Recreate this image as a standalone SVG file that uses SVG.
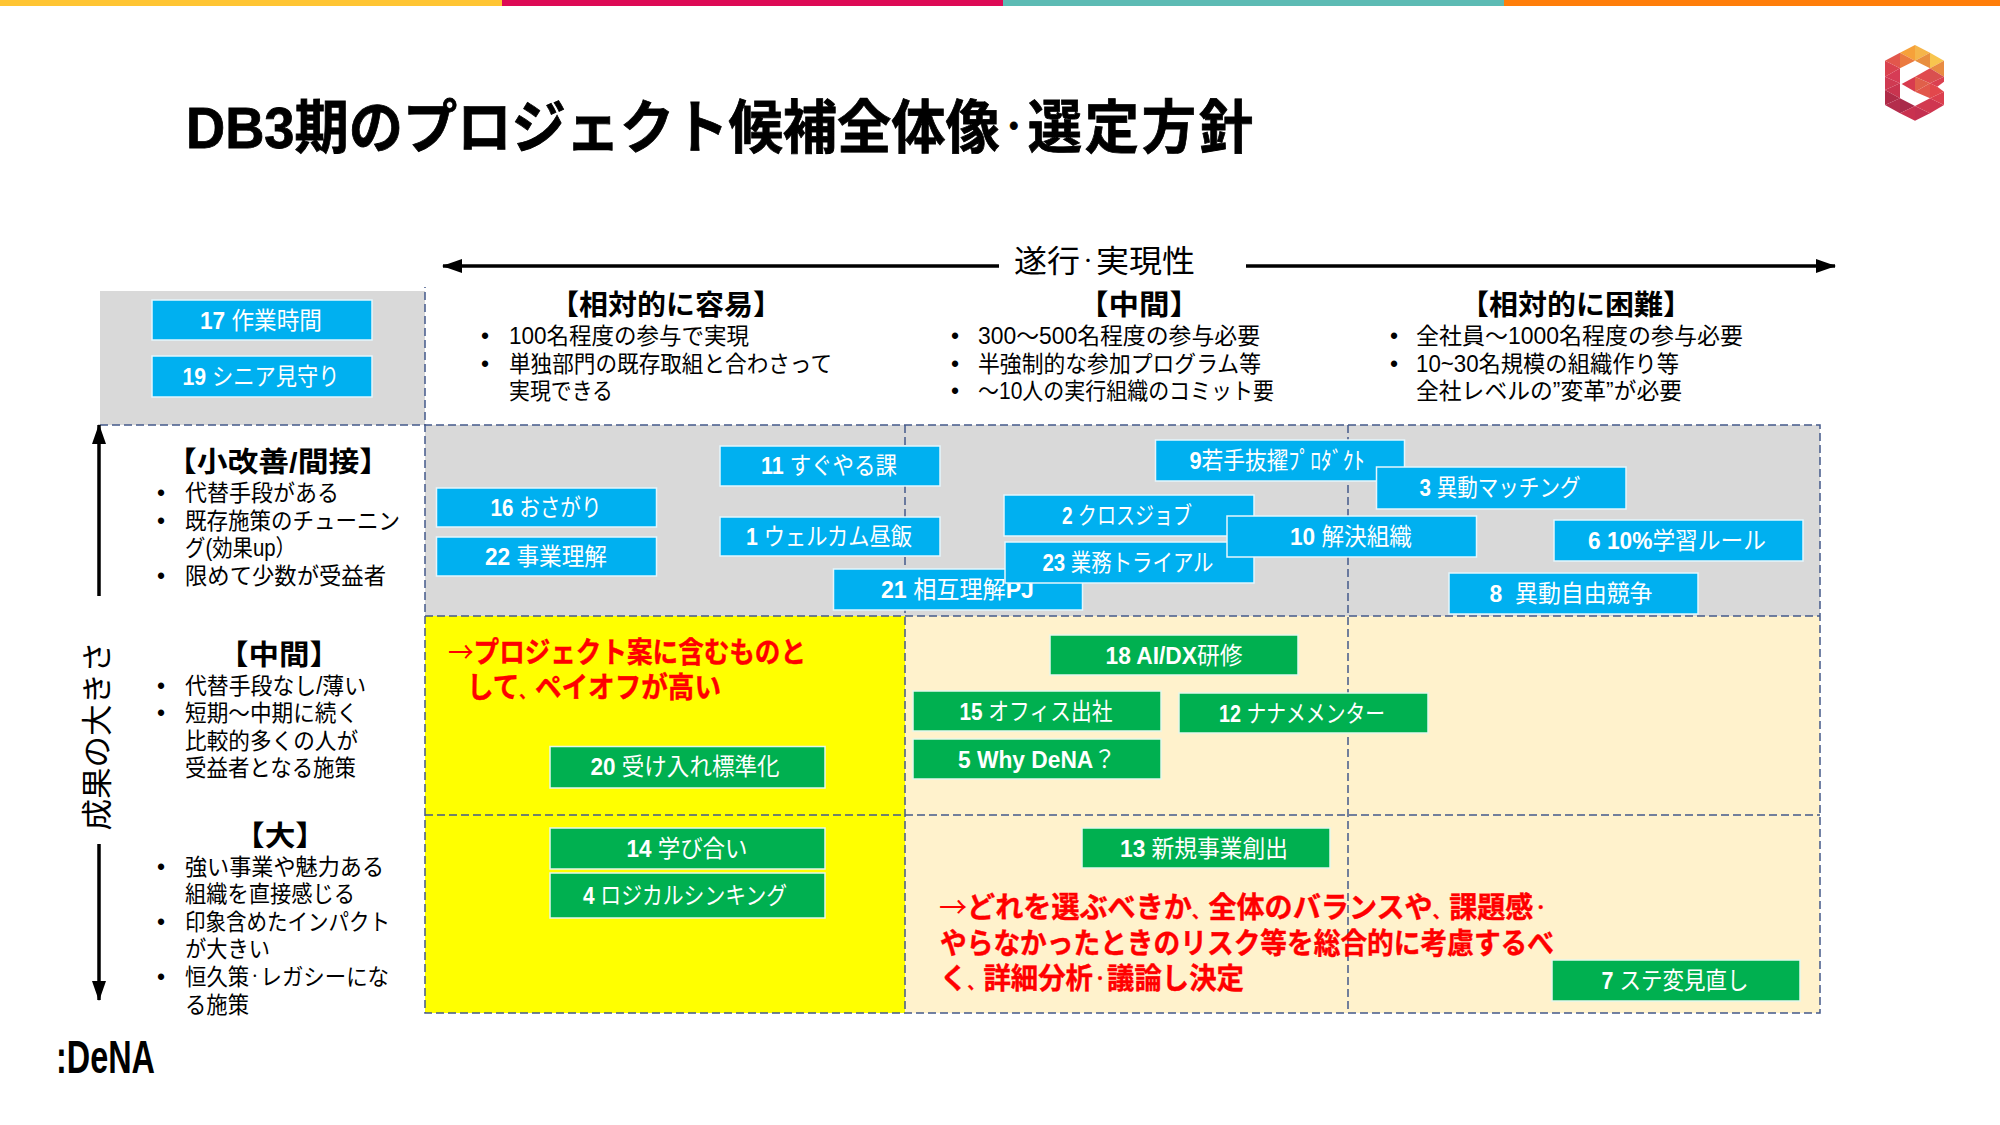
<svg xmlns="http://www.w3.org/2000/svg" width="2000" height="1125" viewBox="0 0 2000 1125">
<style>
text{font-family:"Liberation Sans","Noto Sans CJK JP",sans-serif;fill:#000}
.title{font-size:58px;font-weight:700;stroke:#000;stroke-width:.8}
.h{font-size:28px;font-weight:700;text-anchor:middle}
.b{font-size:23px}
.axis{font-size:31px}
.red{font-size:29px;font-weight:700;fill:#f00;stroke:#f00;stroke-width:.4}
.ar{font-family:"Noto Sans CJK JP",sans-serif;font-weight:400;stroke:none}
.cm{font-size:17px}
.dt{font-size:15px}
.lb{font-size:24px;fill:#fff;text-anchor:middle}
.lb tspan{font-weight:700}
.bl{fill:#00B0F0;stroke:#E4F6FD;stroke-width:1.5}
.gr{fill:#00B050;stroke:#E6F7EC;stroke-width:1.5}
.dash{stroke:#44598A;stroke-width:1.5;stroke-dasharray:8 4;fill:none}
.arr{stroke:#000;stroke-width:3.5;fill:none;marker-end:url(#ah)}
</style>
<defs><marker id="ah" viewBox="0 0 20 14" refX="19" refY="7" markerWidth="20" markerHeight="14" markerUnits="userSpaceOnUse" orient="auto"><path d="M0 0L20 7L0 14Z" fill="#000"/></marker></defs>
<g id="topbar"><rect x="0" y="0" width="502" height="6" fill="#FFC533"/><rect x="502" y="0" width="501" height="6" fill="#DD0A55"/><rect x="1003" y="0" width="501" height="6" fill="#5DBBB4"/><rect x="1504" y="0" width="496" height="6" fill="#FF7E0A"/></g>
<g id="logo-b" transform="translate(1860,30) scale(.3333)">
<path fill="#F6A13A" d="M165 45L120 68L165 92Z"/><path fill="#F5B54A" d="M165 45L210 68L165 92Z"/><path fill="#E88F3F" d="M210 68L165 92L210 115Z"/><path fill="#F8C54E" d="M210 68L252 92L210 115Z"/><path fill="#E88B42" d="M252 92L210 115L252 140Z"/><path fill="#D9504F" d="M210 115L252 140L210 160Z"/><path fill="#E2574C" d="M120 68L75 92L120 115Z"/><path fill="#EB7A3F" d="M120 68L165 92L120 115Z"/><path fill="#D9424F" d="M75 92L120 115L75 140Z"/><path fill="#D63C55" d="M120 115L75 140L120 160Z"/><path fill="#CF3A52" d="M75 140L120 160L75 180Z"/><path fill="#C9344F" d="M120 160L75 180L120 205Z"/><path fill="#B02B48" d="M75 180L120 205L75 225Z"/><path fill="#B42D4C" d="M120 205L75 225L120 250Z"/><path fill="#A92A4A" d="M120 205L165 228L120 250Z"/><path fill="#C9314F" d="M120 250L165 228L165 272Z"/><path fill="#C43050" d="M165 228L210 250L165 272Z"/><path fill="#D23A50" d="M165 228L210 205L210 250Z"/><path fill="#CF3650" d="M210 205L252 225L210 250Z"/><path fill="#DB3F4E" d="M210 205L252 185L252 225Z"/><path fill="#D83B4E" d="M125 162L165 140L165 185Z"/><path fill="#E04A4E" d="M165 140L210 115L210 160Z"/><path fill="#E0604A" d="M165 140L210 160L165 185Z"/><path fill="#E2574A" d="M210 160L165 185L210 205Z"/><path fill="#E2474C" d="M210 160L232 170L252 185L210 205Z"/><path fill="#DB4050" d="M252 140L210 160L232 170L252 155Z"/>
</g>
<text id="title" class="title" x="186" y="148" textLength="1070" lengthAdjust="spacingAndGlyphs">DB3期のプロジェクト候補全体像<tspan font-size="30" dy="-11">・</tspan><tspan dy="11" letter-spacing="3">選定方針</tspan></text>
<g id="grid">
<rect x="100" y="291" width="325" height="134" fill="#D9D9D9"/>
<rect x="425" y="425" width="1395" height="191" fill="#D9D9D9"/>
<rect x="425" y="616" width="480" height="397" fill="#FFFF00"/>
<rect x="905" y="616" width="915" height="397" fill="#FFF2CC"/>
<path class="dash" d="M100 425H1820V1013H425V287M425 616H1820M425 815H1820M905 425V1013M1348 425V1013"/>
</g>
<g id="connectors">
<path class="arr" d="M999 266H443"/><path class="arr" d="M1246 266H1835"/>
<path class="arr" d="M99 596V425"/><path class="arr" d="M99 844V1000"/>
</g>
<g id="axis-x"><text class="axis" x="1014" y="272" textLength="181" lengthAdjust="spacingAndGlyphs">遂行<tspan font-size="15" dy="-6">・</tspan><tspan dy="6">実現性</tspan></text></g>
<g id="axis-y"><text class="axis" transform="translate(108,736) rotate(-90)" text-anchor="middle" textLength="189" lengthAdjust="spacingAndGlyphs">成果の大きさ</text></g>
<g id="col-easy"><text class="h" x="666" y="315" textLength="232" lengthAdjust="spacingAndGlyphs">【相対的に容易】</text>
<text class="b" x="481" y="344">•</text><text class="b" x="509" y="344" textLength="240" lengthAdjust="spacingAndGlyphs">100名程度の参与で実現</text>
<text class="b" x="481" y="372">•</text><text class="b" x="509" y="372" textLength="323" lengthAdjust="spacingAndGlyphs">単独部門の既存取組と合わさって</text>
<text class="b" x="509" y="399" textLength="104" lengthAdjust="spacingAndGlyphs">実現できる</text></g>
<g id="col-mid"><text class="h" x="1139" y="315" textLength="122" lengthAdjust="spacingAndGlyphs">【中間】</text>
<text class="b" x="951" y="344">•</text><text class="b" x="978" y="344" textLength="282" lengthAdjust="spacingAndGlyphs">300～500名程度の参与必要</text>
<text class="b" x="951" y="372">•</text><text class="b" x="978" y="372" textLength="283" lengthAdjust="spacingAndGlyphs">半強制的な参加プログラム等</text>
<text class="b" x="951" y="399">•</text><text class="b" x="978" y="399" textLength="296" lengthAdjust="spacingAndGlyphs">～10人の実行組織のコミット要</text></g>
<g id="col-hard"><text class="h" x="1576" y="315" textLength="232" lengthAdjust="spacingAndGlyphs">【相対的に困難】</text>
<text class="b" x="1390" y="344">•</text><text class="b" x="1416" y="344" textLength="327" lengthAdjust="spacingAndGlyphs">全社員～1000名程度の参与必要</text>
<text class="b" x="1390" y="372">•</text><text class="b" x="1416" y="372" textLength="263" lengthAdjust="spacingAndGlyphs">10~30名規模の組織作り等</text>
<text class="b" x="1416" y="399" textLength="266" lengthAdjust="spacingAndGlyphs">全社レベルの”変革”が必要</text></g>
<g id="row-small"><text class="h" x="278" y="472" textLength="224" lengthAdjust="spacingAndGlyphs">【小改善/間接】</text>
<text class="b" x="157" y="501">•</text><text class="b" x="185" y="501" textLength="154" lengthAdjust="spacingAndGlyphs">代替手段がある</text>
<text class="b" x="157" y="529">•</text><text class="b" x="185" y="529" textLength="215" lengthAdjust="spacingAndGlyphs">既存施策のチューニン</text>
<text class="b" x="185" y="556" textLength="111" lengthAdjust="spacingAndGlyphs">グ(効果up）</text>
<text class="b" x="157" y="584">•</text><text class="b" x="185" y="584" textLength="201" lengthAdjust="spacingAndGlyphs">限めて少数が受益者</text></g>
<g id="row-mid"><text class="h" x="279" y="665" textLength="122" lengthAdjust="spacingAndGlyphs">【中間】</text>
<text class="b" x="157" y="694">•</text><text class="b" x="185" y="694" textLength="181" lengthAdjust="spacingAndGlyphs">代替手段なし/薄い</text>
<text class="b" x="157" y="721">•</text><text class="b" x="185" y="721" textLength="173" lengthAdjust="spacingAndGlyphs">短期～中期に続く</text>
<text class="b" x="185" y="749" textLength="173" lengthAdjust="spacingAndGlyphs">比較的多くの人が</text>
<text class="b" x="185" y="776" textLength="171" lengthAdjust="spacingAndGlyphs">受益者となる施策</text></g>
<g id="row-large"><text class="h" x="280" y="846" textLength="92" lengthAdjust="spacingAndGlyphs">【大】</text>
<text class="b" x="157" y="875">•</text><text class="b" x="185" y="875" textLength="199" lengthAdjust="spacingAndGlyphs">強い事業や魅力ある</text>
<text class="b" x="185" y="902" textLength="170" lengthAdjust="spacingAndGlyphs">組織を直接感じる</text>
<text class="b" x="157" y="930">•</text><text class="b" x="185" y="930" textLength="205" lengthAdjust="spacingAndGlyphs">印象含めたインパクト</text>
<text class="b" x="185" y="957" textLength="85" lengthAdjust="spacingAndGlyphs">が大きい</text>
<text class="b" x="157" y="985">•</text><text class="b" x="185" y="985" textLength="204" lengthAdjust="spacingAndGlyphs">恒久策<tspan font-size="12" dy="-4">・</tspan><tspan dy="4">レガシーにな</tspan></text>
<text class="b" x="185" y="1013" textLength="64" lengthAdjust="spacingAndGlyphs">る施策</text></g>
<g id="n17"><rect class="bl" x="152" y="300" width="220" height="40"/><text class="lb" x="261" y="329" textLength="122" lengthAdjust="spacingAndGlyphs"><tspan>17</tspan> 作業時間</text></g>
<g id="n19"><rect class="bl" x="152" y="356" width="220" height="41"/><text class="lb" x="261" y="385" textLength="157" lengthAdjust="spacingAndGlyphs"><tspan>19</tspan> シニア見守り</text></g>
<g id="n16"><rect class="bl" x="436.500" y="488" width="220" height="39"/><text class="lb" x="546" y="516" textLength="111" lengthAdjust="spacingAndGlyphs"><tspan>16</tspan> おさがり</text></g>
<g id="n22"><rect class="bl" x="436.500" y="537" width="220" height="39"/><text class="lb" x="546" y="565" textLength="122" lengthAdjust="spacingAndGlyphs"><tspan>22</tspan> 事業理解</text></g>
<g id="n11"><rect class="bl" x="720" y="446" width="220" height="40"/><text class="lb" x="829" y="474" textLength="136" lengthAdjust="spacingAndGlyphs"><tspan>11</tspan> すぐやる課</text></g>
<g id="n1"><rect class="bl" x="720" y="517" width="220" height="39"/><text class="lb" x="829" y="545" textLength="166" lengthAdjust="spacingAndGlyphs"><tspan>1</tspan> ウェルカム昼飯</text></g>
<g id="n21"><rect class="bl" x="833.500" y="569" width="249" height="41"/><text class="lb" x="957.500" y="598" textLength="153" lengthAdjust="spacingAndGlyphs"><tspan>21</tspan> 相互理解<tspan>PJ</tspan></text></g>
<g id="n2"><rect class="bl" x="1004" y="495" width="250" height="41"/><text class="lb" x="1127" y="524" textLength="130" lengthAdjust="spacingAndGlyphs"><tspan>2</tspan> クロスジョブ</text></g>
<g id="n23"><rect class="bl" x="1005" y="542" width="249" height="41"/><text class="lb" x="1128" y="571" textLength="171" lengthAdjust="spacingAndGlyphs"><tspan>23</tspan> 業務トライアル</text></g>
<g id="n9"><rect class="bl" x="1155.500" y="440" width="249" height="41"/><text class="lb" x="1277" y="469" textLength="175" lengthAdjust="spacingAndGlyphs"><tspan>9</tspan>若手抜擢ﾌﾟﾛﾀﾞｸﾄ</text></g>
<g id="n3"><rect class="bl" x="1376.500" y="467" width="249.500" height="42"/><text class="lb" x="1500" y="496" textLength="161" lengthAdjust="spacingAndGlyphs"><tspan>3</tspan> 異動マッチング</text></g>
<g id="n10"><rect class="bl" x="1227" y="516" width="249.500" height="41"/><text class="lb" x="1351" y="545" textLength="122" lengthAdjust="spacingAndGlyphs"><tspan>10</tspan> 解決組織</text></g>
<g id="n6"><rect class="bl" x="1554" y="520" width="249" height="41"/><text class="lb" x="1677" y="549" textLength="178" lengthAdjust="spacingAndGlyphs"><tspan>6 10%</tspan>学習ルール</text></g>
<g id="n8"><rect class="bl" x="1449" y="573" width="249" height="41"/><text class="lb" x="1571" y="602" textLength="163" lengthAdjust="spacingAndGlyphs" xml:space="preserve"><tspan>8</tspan>  異動自由競争</text></g>
<g id="n18"><rect class="gr" x="1050" y="635" width="248" height="40"/><text class="lb" x="1174" y="664" textLength="137" lengthAdjust="spacingAndGlyphs"><tspan>18 AI/DX</tspan>研修</text></g>
<g id="n15"><rect class="gr" x="913" y="691" width="248" height="40"/><text class="lb" x="1036" y="720" textLength="153" lengthAdjust="spacingAndGlyphs"><tspan>15</tspan> オフィス出社</text></g>
<g id="n12"><rect class="gr" x="1179" y="693" width="249" height="40"/><text class="lb" x="1302" y="722" textLength="166" lengthAdjust="spacingAndGlyphs"><tspan>12</tspan> ナナメメンター</text></g>
<g id="n5"><rect class="gr" x="913" y="739" width="248" height="40"/><text class="lb" x="1037" y="768" textLength="158" lengthAdjust="spacingAndGlyphs"><tspan>5 Why DeNA</tspan>？</text></g>
<g id="n20"><rect class="gr" x="550" y="746.500" width="275" height="41.500"/><text class="lb" x="685" y="775" textLength="189" lengthAdjust="spacingAndGlyphs"><tspan>20</tspan> 受け入れ標準化</text></g>
<g id="n14"><rect class="gr" x="550" y="828" width="275" height="41"/><text class="lb" x="687" y="857" textLength="121" lengthAdjust="spacingAndGlyphs"><tspan>14</tspan> 学び合い</text></g>
<g id="n4"><rect class="gr" x="550" y="873" width="275" height="45"/><text class="lb" x="685" y="904" textLength="204" lengthAdjust="spacingAndGlyphs"><tspan>4</tspan> ロジカルシンキング</text></g>
<g id="n13"><rect class="gr" x="1082" y="828" width="248" height="40"/><text class="lb" x="1204" y="857" textLength="168" lengthAdjust="spacingAndGlyphs"><tspan>13</tspan> 新規事業創出</text></g>
<g id="n7"><rect class="gr" x="1552" y="960" width="248" height="41"/><text class="lb" x="1675" y="989" textLength="147" lengthAdjust="spacingAndGlyphs"><tspan>7</tspan> ステ変見直し</text></g>
<g id="note-yellow"><text class="red" x="448" y="663" textLength="358" lengthAdjust="spacingAndGlyphs"><tspan class="ar">→</tspan>プロジェクト案に含むものと</text><text class="red" x="467" y="698" textLength="254" lengthAdjust="spacingAndGlyphs">して<tspan class="cm">、</tspan>ペイオフが高い</text></g>
<g id="note-beige"><text class="red" x="939" y="918" textLength="609" lengthAdjust="spacingAndGlyphs"><tspan class="ar">→</tspan>どれを選ぶべきか<tspan class="cm">、</tspan>全体のバランスや<tspan class="cm">、</tspan>課題感<tspan class="dt" dy="-5">・</tspan></text><text class="red" x="940" y="954" textLength="614" lengthAdjust="spacingAndGlyphs">やらなかったときのリスク等を総合的に考慮するべ</text><text class="red" x="940" y="989" textLength="304" lengthAdjust="spacingAndGlyphs">く<tspan class="cm">、</tspan>詳細分析<tspan class="dt" dy="-5">・</tspan><tspan dy="5">議論し決定</tspan></text></g>
<g id="logo-dena"><text x="56" y="1073" font-size="46" font-weight="700" textLength="99" lengthAdjust="spacingAndGlyphs">:DeNA</text></g>
</svg>
